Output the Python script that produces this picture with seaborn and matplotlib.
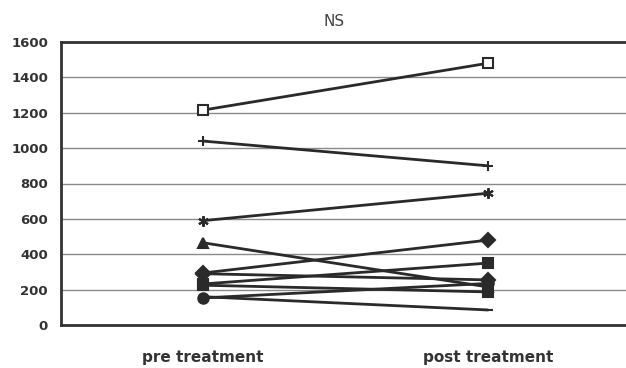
import pandas as pd
import matplotlib.pyplot as plt
import seaborn as sns

# values (pre, post) for each subject
phases = ["pre treatment", "post treatment"]
subjects = ["s1", "s2", "s3", "s4", "s5", "s6", "s7", "s8", "s9", "s10"]
pre_vals = [294, 290, 232, 225, 465, 590, 153, 160, 1040, 1215]
post_vals = [480, 255, 350, 187, 215, 745, 235, 85, 900, 1480]
marker_list = ["D", "D", "s", "s", "^", (6, 2, 0), "o", "_", "+", "s"]
yticks = [0, 200, 400, 600, 800, 1000, 1200, 1400, 1600]

rows = []
for s, a, b in zip(subjects, pre_vals, post_vals):
    rows.append({"subject": s, "phase": phases[0], "value": a})
    rows.append({"subject": s, "phase": phases[1], "value": b})
df = pd.DataFrame(rows)

sns.set_style("white")
fig = plt.figure(figsize=(6.26, 3.68), dpi=100)
ax = fig.add_axes([60.5 / 626, 43 / 368, 570 / 626, 283 / 368])

ink = "#2a2a2a"
sns.lineplot(data=df, x="phase", y="value", units="subject", estimator=None,
             color=ink, linewidth=2, ax=ax, legend=False, sort=False)

# markers per subject
for s, a, b, m in zip(subjects, pre_vals, post_vals, marker_list):
    face = "white" if s == "s10" else ink
    ax.plot([0, 1], [a, b], linestyle="none", marker=m, markersize=7.5,
            markerfacecolor=face, markeredgecolor=ink, markeredgewidth=1.5)

ax.set_xlim(-0.5, 1.5)
ax.set_ylim(0, 1600)
ax.set_yticks(yticks)
ax.yaxis.grid(True, color="#8a8a8a", linewidth=1)
ax.set_axisbelow(True)
ax.set_xticks([0, 1])
ax.set_xticklabels(phases, fontsize=11, fontweight="bold", color="#333333")
ax.set_xticks([0.5], minor=True)
ax.tick_params(axis="x", which="major", length=0, pad=18)
ax.tick_params(axis="x", which="minor", length=4, direction="in", color="#888888")
ax.tick_params(axis="y", length=0, pad=9, labelsize=9.5, labelcolor="#333333")
for lab in ax.get_yticklabels():
    lab.set_fontweight("bold")
ax.set_xlabel("")
ax.set_ylabel("")
for side in ["left", "bottom", "top"]:
    ax.spines[side].set_color("#333333")
    ax.spines[side].set_linewidth(2)
ax.spines["right"].set_visible(False)

fig.text(334 / 626, 1 - 21 / 368, "NS", ha="center", va="center",
         fontsize=11, color="#444444")

fig.savefig("out.png", dpi=100, facecolor="white")
